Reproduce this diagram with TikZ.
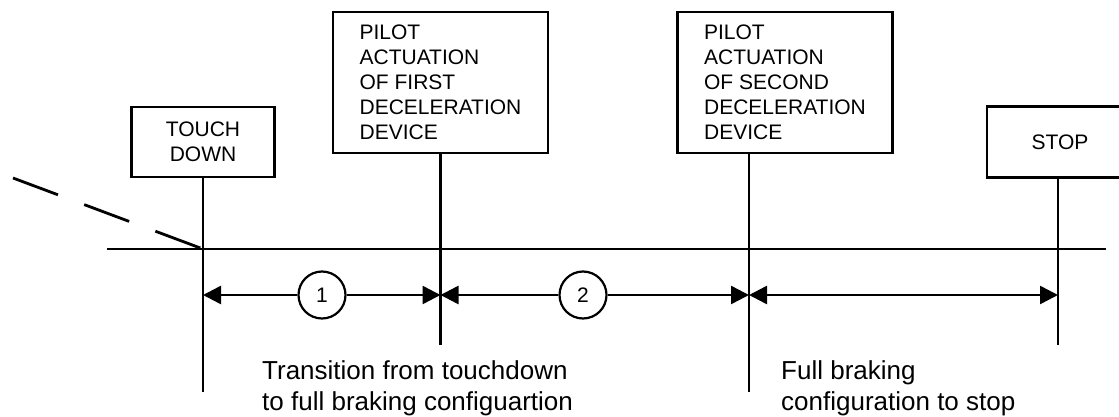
\documentclass[tikz,border=0pt]{standalone}
\usepackage{fontspec}
\setmainfont{Liberation Sans}
\usetikzlibrary{arrows.meta}
\begin{document}
\begin{tikzpicture}[x=1pt,y=-1pt,
  lw/.style={line width=2.8pt},
  box/.style={draw,line width=2.8pt,inner sep=0pt,font=\fontsize{21}{25}\selectfont},
  num/.style={draw,circle,line width=2.2pt,inner sep=0pt,minimum size=47pt,fill=white,font=\fontsize{21}{25}\selectfont},
  arr/.style={line width=2.5pt,-{Triangle[length=18pt,width=18pt]}},
  dbl/.style={line width=2.5pt,{Triangle[length=18pt,width=18pt]}-{Triangle[length=18pt,width=18pt]}},
  note/.style={inner sep=0pt,anchor=north west,align=left,font=\fontsize{26}{31}\selectfont}
]
\useasboundingbox (0,0) rectangle (1119,417);

% boxes
\node[box,align=center,minimum width=143pt,minimum height=70pt] (td) at (203,142) {TOUCH\\DOWN};
\node[box,align=left,minimum width=215pt,minimum height=141pt] (p1) at (440.5,82.5) {PILOT\\ACTUATION\\OF FIRST\\DECELERATION\\DEVICE};
\node[box,align=left,minimum width=215pt,minimum height=141pt] (p2) at (785,82.5) {PILOT\\ACTUATION\\OF SECOND\\DECELERATION\\DEVICE};
\node[box,align=center,minimum width=146pt,minimum height=71pt] (st) at (1060,142) {STOP};

% coordinates
\coordinate (gl) at (107,249);
\coordinate (gr) at (1106,249);
\coordinate (tdG) at (203,249);
\coordinate (app) at (13,178);
\coordinate (tdB) at (203,392);
\coordinate (p1B) at (440.5,345);
\coordinate (p2B) at (749,392);
\coordinate (stB) at (1058,345);
\coordinate (tdA) at (203,295);
\coordinate (p1A) at (440.5,295);
\coordinate (p2A) at (749,295);
\coordinate (stA) at (1058,295);

% ground line and approach path
\draw[lw] (gl) -- (gr);
\draw[lw,dash pattern=on 48pt off 28pt] (app) -- (tdG);

% event lines
\draw[lw] (td.south) -- (tdB);
\draw[lw] (p1.south) -- (p1B);
\draw[lw] (p2.south -| p2B) -- (p2B);
\draw[lw] (st.south -| stB) -- (stB);

% phase arrows
\node[num] (n1) at (322,295) {1};
\node[num] (n2) at (583,295) {2};
\draw[arr] (n1) -- (tdA);
\draw[arr] (n1) -- (p1A);
\draw[arr] (n2) -- (p1A);
\draw[arr] (n2) -- (p2A);
\draw[dbl] (p2A) -- (stA);

% notes
\node[note] (t1) at (262,360) {Transition from touchdown\\to full braking configuartion};
\node[note] (t2) at (781,360) {Full braking\\configuration to stop};
\end{tikzpicture}
\end{document}
